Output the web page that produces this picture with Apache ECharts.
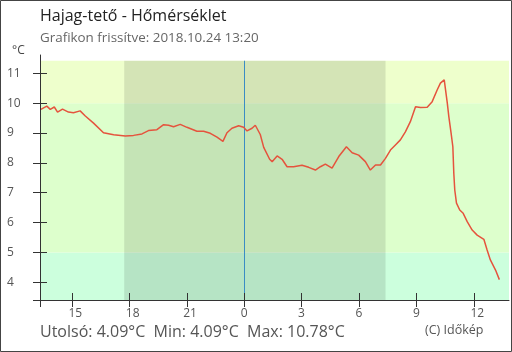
<!DOCTYPE html>
<html><head><meta charset="utf-8">
<script src="https://cdn.jsdelivr.net/npm/echarts@6/dist/echarts.min.js"></script>
<style>html,body{margin:0;padding:0;background:#fff}#c{width:512px;height:352px}</style>
</head><body><div id="c"></div><script>
// time in hours counted from midnight of the previous day (24 = 0:00)
const hours = [13.38,13.69,13.87,14.08,14.25,14.51,14.82,15.08,15.43,15.70,16.13,16.65,17.18,17.79,18.22,18.66,19.00,19.44,19.79,20.05,20.31,20.66,21.01,21.53,21.88,22.23,22.58,22.89,23.10,23.36,23.71,23.97,24.15,24.41,24.58,24.84,25.02,25.33,25.46,25.72,25.98,26.24,26.58,27.02,27.37,27.72,27.98,28.24,28.59,28.94,29.34,29.64,29.98,30.33,30.59,30.86,31.12,31.38,31.64,31.90,32.16,32.42,32.68,32.95,33.21,33.56,33.82,34.08,34.25,34.45,34.61,34.69,34.81,34.90,34.95,35.00,35.09,35.26,35.44,35.65,35.91,36.17,36.52,36.69,36.86,37.13,37.33];
const temps = [9.79,9.90,9.79,9.87,9.70,9.80,9.70,9.68,9.74,9.57,9.33,9.01,8.94,8.90,8.92,8.97,9.08,9.11,9.28,9.26,9.21,9.29,9.19,9.06,9.06,8.99,8.86,8.72,9.01,9.16,9.24,9.19,9.07,9.16,9.26,8.95,8.52,8.12,8.04,8.23,8.12,7.87,7.87,7.92,7.85,7.76,7.87,7.96,7.82,8.21,8.54,8.34,8.26,8.04,7.76,7.93,7.93,8.15,8.43,8.60,8.77,9.04,9.38,9.88,9.85,9.86,10.05,10.44,10.67,10.78,10.00,9.55,8.99,8.54,7.65,7.09,6.65,6.42,6.31,6.03,5.75,5.58,5.44,5.08,4.75,4.41,4.09];
const xTicks = [15,18,21,24,27,30,33,36];
const yTicks = [4,5,6,7,8,9,10,11];
const night = [17.733, 31.383];   // sunset, sunrise
const midnight = 24;
const bandLimits = [5, 10];
const titleText = 'Hajag-tető - Hőmérséklet';
const subText = 'Grafikon frissítve: 2018.10.24 13:20';
const unitText = '°C';
const creditText = '(C) Időkép';

const xMin = 13 + 20/60, xMax = 37 + 50/60;
const yMin = 3.407, yMax = 11.612, plotTop = 11.42;
const labelShift = 0.183;
const FONT = 'Open Sans';
const AX = '#333';

const lastV = temps[temps.length-1], minV = Math.min(...temps), maxV = Math.max(...temps);
const statText = 'Utolsó: ' + lastV.toFixed(2) + '°C  Min: ' + minV.toFixed(2) + '°C  Max: ' + maxV.toFixed(2) + '°C';

const chart = echarts.init(document.getElementById('c'), null, {renderer:'canvas'});
const noAx = {axisLine:{show:false}, axisTick:{show:false}, axisLabel:{show:false}, splitLine:{show:false}};
chart.setOption({
  animation:false,
  backgroundColor:'#fff',
  grid:{left:40, top:55, width:469, height:245},
  xAxis:[
    {type:'value', min:xMin, max:xMax, position:'bottom', z:10, splitLine:{show:false},
     axisLine:{show:true, lineStyle:{color:AX, width:1}},
     axisTick:{show:true, inside:false, length:7, customValues:[xMin].concat(xTicks), lineStyle:{color:AX}},
     axisLabel:{show:false}},
    Object.assign({type:'value', min:xMin, max:xMax, position:'bottom', z:10}, noAx,
     {axisTick:{show:true, inside:true, length:7, customValues:xTicks, lineStyle:{color:AX}}}),
    Object.assign({type:'value', min:xMin+labelShift, max:xMax+labelShift, position:'bottom', z:10}, noAx,
     {axisLabel:{show:true, customValues:xTicks, align:'left', margin:8, color:'#555', fontSize:12, fontFamily:FONT,
       formatter:v=>String(Math.round(v)%24)}})
  ],
  yAxis:[
    {type:'value', min:yMin, max:yMax, position:'left', z:10, splitLine:{show:false},
     axisLine:{show:true, lineStyle:{color:AX, width:1}},
     axisTick:{show:true, inside:false, length:7, customValues:[yMin].concat(yTicks), lineStyle:{color:AX}},
     axisLabel:{show:true, customValues:yTicks, align:'left', margin:33, color:'#555', fontSize:12, fontFamily:FONT}},
    Object.assign({type:'value', min:yMin, max:yMax, position:'left', z:10}, noAx,
     {axisTick:{show:true, inside:true, length:7, customValues:yTicks, lineStyle:{color:AX}}})
  ],
  series:[
    {type:'line', data:[], z:1, silent:true,
     markArea:{silent:true, data:[
       [{yAxis:yMin, itemStyle:{color:'#ccffdd'}},{yAxis:bandLimits[0]}],
       [{yAxis:bandLimits[0], itemStyle:{color:'#ddffcc'}},{yAxis:bandLimits[1]}],
       [{yAxis:bandLimits[1], itemStyle:{color:'#eeffcc'}},{yAxis:plotTop}]
     ]}},
    {type:'line', data:[], z:2, silent:true,
     markArea:{silent:true, itemStyle:{color:'rgba(0,0,0,0.105)'}, data:[
       [{coord:[night[0], yMin]},{coord:[night[1], plotTop]}]
     ]}},
    {type:'line', data:hours.map((h,i)=>[h,temps[i]]), z:5, showSymbol:false, symbol:'none',
     lineStyle:{color:'#e5533d', width:1.5},
     markLine:{silent:true, symbol:['none','none'], label:{show:false},
       lineStyle:{color:'#3a8cc4', width:1, type:'solid'},
       data:[[{coord:[midnight, plotTop]},{coord:[midnight, yMin]}]]}}
  ],
  graphic:[
    {type:'rect', shape:{x:0.5, y:0.5, width:511, height:351}, style:{fill:'none', stroke:'#444', lineWidth:1}, z:100},
    {type:'text', left:40, top:8, style:{text:titleText, font:'16px "Open Sans"', fill:'#222'}},
    {type:'text', left:40, top:32, style:{text:subText, font:'13.4px "Open Sans"', fill:'#666'}},
    {type:'text', left:12, top:45, style:{text:unitText, font:'12px "Open Sans"', fill:'#444'}},
    {type:'text', left:40, top:324, style:{text:statText, font:'16px "Open Sans"', fill:'#555'}},
    {type:'text', left:425, top:324, style:{text:creditText, font:'12.5px "Open Sans"', fill:'#555'}}
  ]
});
</script></body></html>
